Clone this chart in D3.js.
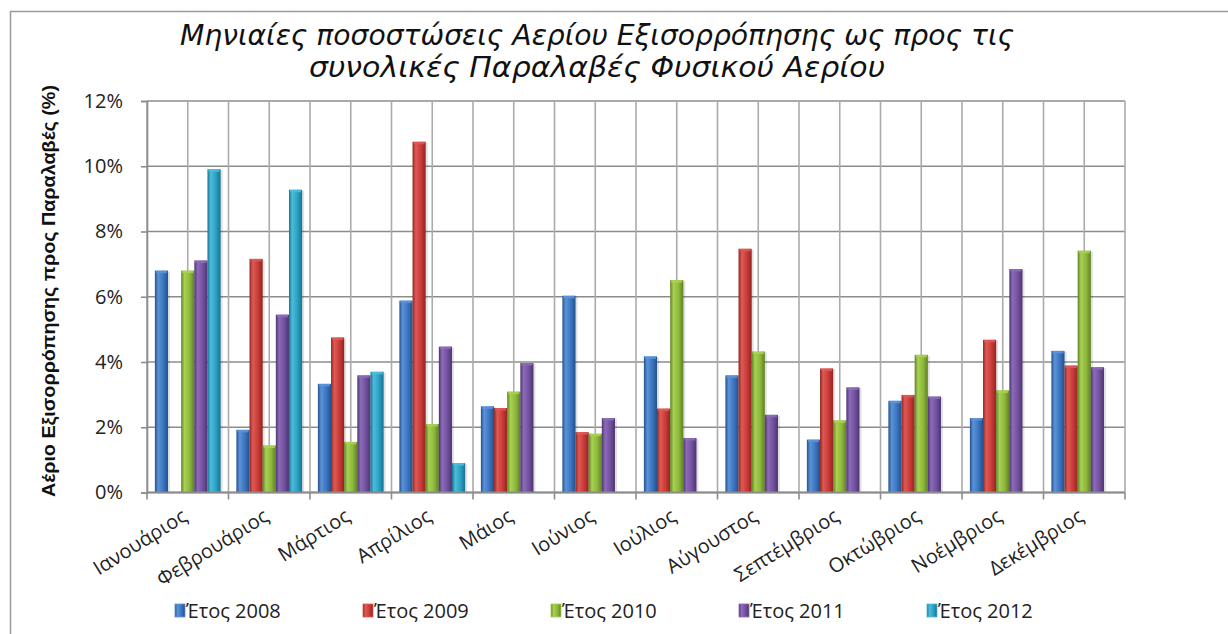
<!DOCTYPE html>
<html><head><meta charset="utf-8">
<script src="https://cdn.jsdelivr.net/npm/d3@7"></script>
<style>
html,body{margin:0;padding:0;background:#fff;}
svg{display:block;}
</style></head>
<body>
<svg id="chart" width="1228" height="634"></svg>
<script>
const months = ["Ιανουάριος","Φεβρουάριος","Μάρτιος","Απρίλιος","Μάιος","Ιούνιος","Ιούλιος","Αύγουστος","Σεπτέμβριος","Οκτώβριος","Νοέμβριος","Δεκέμβριος"];
const seriesNames = ["Έτος 2008","Έτος 2009","Έτος 2010","Έτος 2011","Έτος 2012"];
const y2008 = [6.80,1.92,3.33,5.88,2.64,6.03,4.17,3.59,1.62,2.81,2.28,4.34];
const y2009 = [null,7.16,4.75,10.75,2.59,1.85,2.57,7.47,3.80,2.99,4.68,3.89];
const y2010 = [6.80,1.44,1.55,2.10,3.09,1.80,6.51,4.32,2.21,4.22,3.13,7.41];
const y2011 = [7.11,5.45,3.59,4.47,3.97,2.28,1.67,2.38,3.22,2.94,6.85,3.84];
const y2012 = [9.91,9.28,3.70,0.90,null,null,null,null,null,null,null,null];
const yTicks = [0,2,4,6,8,10,12];
const titleLines = ["Μηνιαίες ποσοστώσεις Αερίου Εξισορρόπησης ως προς τις","συνολικές Παραλαβές Φυσικού Αερίου"];
const yTitle = "Αέριο Εξισορρόπησης προς Παραλαβές (%)";

const allSeries = [y2008,y2009,y2010,y2011,y2012];
const colors = [
  {base:"#3b74bf", light:"#5b93d8", dark:"#24508c"},
  {base:"#c93a36", light:"#de5a55", dark:"#8f2622"},
  {base:"#8db83c", light:"#a8d152", dark:"#5f8024"},
  {base:"#71509e", light:"#8c6bb8", dark:"#4d356f"},
  {base:"#2aa0c2", light:"#4cbcdb", dark:"#1a7290"}
];

const svg = d3.select("#chart");
const m = {left:147, right:1125, top:101, bottom:492.5};
const uiFont = "'Open Sans','Noto Sans',sans-serif";

// border
svg.append("rect").attr("x",10.5).attr("y",11.5).attr("width",1240).attr("height",640)
  .attr("fill","#fff").attr("stroke","#9a9a9a").attr("stroke-width",1.5);

// gradients
const defs = svg.append("defs");
colors.forEach((c,i)=>{
  const g = defs.append("linearGradient").attr("id","g"+i).attr("x1","0").attr("x2","1").attr("y1","0").attr("y2","0");
  g.append("stop").attr("offset","0%").attr("stop-color",c.dark);
  g.append("stop").attr("offset","25%").attr("stop-color",c.light);
  g.append("stop").attr("offset","65%").attr("stop-color",c.base);
  g.append("stop").attr("offset","100%").attr("stop-color",c.dark);
});

const x0 = d3.scaleBand().domain(months).range([m.left,m.right]).padding(0);
const x1 = d3.scaleBand().domain(d3.range(5)).range([0,x0.bandwidth()]).paddingInner(0).paddingOuter(0.6);
const y = d3.scaleLinear().domain([0,12]).range([m.bottom,m.top]);

// horizontal grid
svg.append("g").selectAll("line").data(yTicks).join("line")
  .attr("x1",m.left).attr("x2",m.right)
  .attr("y1",d=>y(d)).attr("y2",d=>y(d))
  .attr("stroke","#8c8c8c").attr("stroke-width",1.6);
// vertical grid at boundaries and centers
const vg = [];
months.forEach(mo=>{ vg.push(x0(mo)); vg.push(x0(mo)+x0.bandwidth()/2); });
vg.push(m.right);
svg.append("g").selectAll("line").data(vg).join("line")
  .attr("x1",d=>d).attr("x2",d=>d).attr("y1",m.top).attr("y2",m.bottom)
  .attr("stroke","#ababab").attr("stroke-width",1.6);

// bars
const flat = [];
allSeries.forEach((s,si)=>s.forEach((v,mi)=>{ if(v!=null) flat.push({si,mi,v}); }));
const bars = svg.append("g");
bars.selectAll("rect.sh").data(flat).join("rect").attr("class","sh")
  .attr("x",d=>x0(months[d.mi])+x1(d.si)+2)
  .attr("y",d=>y(d.v)+1)
  .attr("width",x1.bandwidth())
  .attr("height",d=>y(0)-y(d.v)-1)
  .attr("fill","#000").attr("opacity",0.12);
bars.selectAll("rect.b").data(flat).join("rect").attr("class","b")
  .attr("x",d=>x0(months[d.mi])+x1(d.si))
  .attr("y",d=>y(d.v))
  .attr("width",x1.bandwidth())
  .attr("height",d=>y(0)-y(d.v))
  .attr("fill",d=>"url(#g"+d.si+")");
bars.selectAll("rect.t").data(flat).join("rect").attr("class","t")
  .attr("x",d=>x0(months[d.mi])+x1(d.si)+1)
  .attr("y",d=>y(d.v))
  .attr("width",x1.bandwidth()-2)
  .attr("height",2.5)
  .attr("fill",d=>colors[d.si].light).attr("opacity",0.9);

// axes
const yAxis = d3.axisLeft(y).tickValues(yTicks).tickFormat(d=>d+"%").tickSize(6).tickPadding(18);
const gy = svg.append("g").attr("transform",`translate(${m.left},0)`).call(yAxis);
gy.select(".domain").attr("stroke","#8c8c8c").attr("stroke-width",1.6);
gy.selectAll(".tick line").attr("stroke","#8c8c8c").attr("stroke-width",1.6);
gy.selectAll(".tick text").attr("font-family",uiFont).attr("font-size",20).attr("fill","#222");

const xAxisG = svg.append("g");
xAxisG.append("line").attr("x1",m.left).attr("x2",m.right).attr("y1",m.bottom).attr("y2",m.bottom)
  .attr("stroke","#8c8c8c").attr("stroke-width",1.8);
const xb = months.map(mo=>x0(mo)); xb.push(m.right);
xAxisG.selectAll("line.tk").data(xb).join("line").attr("class","tk")
  .attr("x1",d=>d).attr("x2",d=>d).attr("y1",m.bottom).attr("y2",m.bottom+7)
  .attr("stroke","#8c8c8c").attr("stroke-width",1.6);
xAxisG.selectAll("text").data(months).join("text")
  .attr("transform",d=>`translate(${x0(d)+x0.bandwidth()/2-7},${m.bottom+15}) rotate(-32)`)
  .attr("text-anchor","end").attr("dy","0.72em")
  .attr("font-family",uiFont).attr("font-size",20).attr("fill","#222")
  .text(d=>d);

// title
const tt = svg.append("g");
titleLines.forEach((t,i)=>{
  tt.append("text").attr("x",597).attr("y",45+i*32).attr("text-anchor","middle")
    .attr("font-family","'Liberation Sans Narrow','Arial Narrow','DejaVu Sans Condensed',sans-serif")
    .attr("font-style","italic").attr("font-size",29).attr("fill","#111")
    .attr("textLength", i===0?834:576).attr("lengthAdjust","spacingAndGlyphs")
    .text(t);
});

// y title
svg.append("text").attr("transform","translate(55,291) rotate(-90)")
  .attr("text-anchor","middle")
  .attr("font-family","'Liberation Sans','Arial',sans-serif").attr("font-weight","bold")
  .attr("font-size",18).attr("fill","#111")
  .attr("textLength",412).attr("lengthAdjust","spacingAndGlyphs")
  .text(yTitle);

// legend
const lg = svg.append("g");
const lx = d3.scalePoint().domain(d3.range(5)).range([175,927]);
const li = lg.selectAll("g").data(seriesNames).join("g")
  .attr("transform",(d,i)=>`translate(${lx(i)},604)`);
li.append("rect").attr("width",10).attr("height",13).attr("y",0)
  .attr("fill",(d,i)=>"url(#g"+i+")").attr("stroke",(d,i)=>colors[i].light).attr("stroke-width",0.8);
li.append("text").attr("x",11).attr("y",14)
  .attr("font-family",uiFont).attr("font-size",20).attr("fill","#222")
  .text(d=>d);
</script>
</body></html>
